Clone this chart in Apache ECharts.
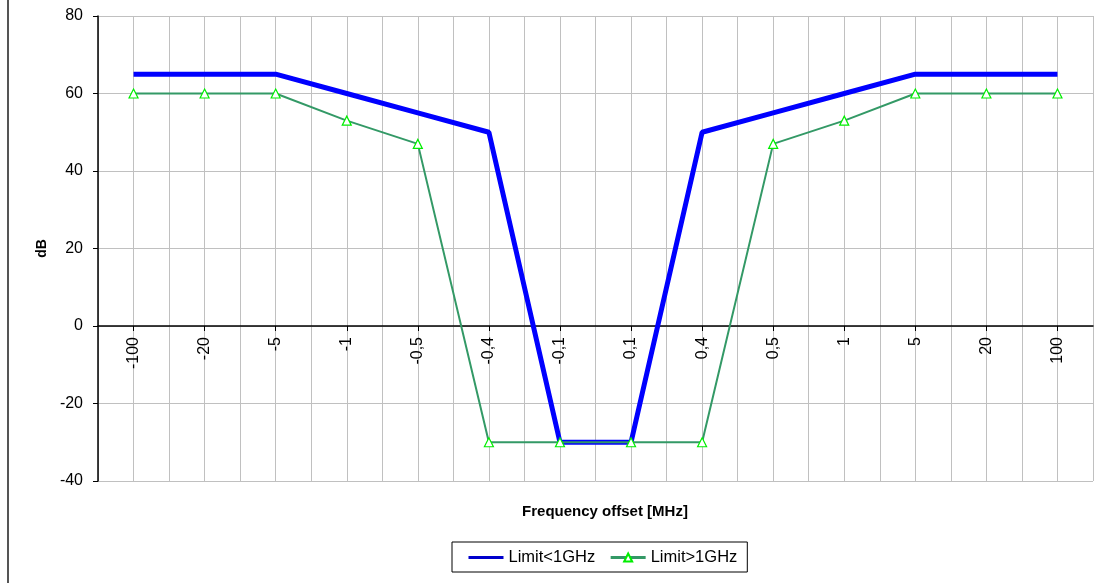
<!DOCTYPE html>
<html>
<head>
<meta charset="utf-8">
<script src="https://cdn.jsdelivr.net/npm/echarts@6/dist/echarts.min.js"></script>
<style>
  html, body { margin: 0; padding: 0; background: #fff; }
  #chart { width: 1105px; height: 583px; }
</style>
</head>
<body>
<div id="chart"></div>
<script>
const categories = ['-100', '-20', '-5', '-1', '-0,5', '-0,4', '-0,1', '0,1', '0,4', '0,5', '1', '5', '20', '100'];
const limitBelow1GHz = [65, 65, 65, 60, 55, 50, -30, -30, 50, 55, 60, 65, 65, 65];
const limitAbove1GHz = [60, 60, 60, 53, 47, -30, -30, -30, -30, 47, 53, 60, 60, 60];
const yTicks = { min: -40, max: 80, interval: 20 };

const FONT = 'Liberation Sans, Arial, sans-serif';
const GRID = { left: 98, right: 12, top: 16, bottom: 102 };
const plotHeight = 583 - GRID.top - GRID.bottom;
// distance of the zero line above the bottom of the plot area (axis placement)
const zeroOffset = plotHeight * (0 - yTicks.min) / (yTicks.max - yTicks.min);

const chart = echarts.init(document.getElementById('chart'), null, { renderer: 'canvas' });

chart.setOption({
  animation: false,
  backgroundColor: '#ffffff',
  textStyle: { fontFamily: FONT },
  title: {
    text: 'Frequency offset [MHz]',
    left: 600,
    top: 499,
    textAlign: 'center',
    textStyle: { fontFamily: FONT, fontSize: 15, fontWeight: 'bold', color: '#000' }
  },
  graphic: [{
    type: 'line',
    shape: { x1: 8, y1: 0, x2: 8, y2: 583 },
    style: { stroke: '#555', lineWidth: 2 }
  }],
  legend: {
    left: 452,
    top: 542,
    padding: [7, 10, 6, 15],
    itemWidth: 35,
    itemHeight: 10,
    itemGap: 14,
    borderColor: '#000',
    borderWidth: 1,
    textStyle: { fontFamily: FONT, fontSize: 16.5, color: '#000' },
    data: [
      { name: 'Limit<1GHz', lineStyle: { width: 3, color: '#0000cc' } },
      { name: 'Limit>1GHz', lineStyle: { width: 3 } }
    ]
  },
  grid: Object.assign({ containLabel: false }, GRID),
  xAxis: [{
    type: 'category',
    data: categories,
    boundaryGap: true,
    position: 'bottom',
    offset: -zeroOffset,
    axisLine: { onZero: false, lineStyle: { color: '#000', width: 1.5 } },
    axisTick: { show: true, alignWithLabel: true, length: 5, lineStyle: { color: '#000' } },
    axisLabel: { rotate: 90, margin: 11, fontFamily: FONT, fontSize: 16, color: '#000' },
    splitLine: { show: false }
  }, {
    type: 'value',
    min: 0,
    max: categories.length * 2,
    interval: 1,
    position: 'bottom',
    axisLine: { show: false },
    axisTick: { show: false },
    axisLabel: { show: false },
    splitLine: { show: true, lineStyle: { color: '#c0c0c0', width: 1 } }
  }],
  yAxis: {
    type: 'value',
    min: yTicks.min,
    max: yTicks.max,
    interval: yTicks.interval,
    name: 'dB',
    nameLocation: 'middle',
    nameGap: 49,
    nameRotate: 90,
    nameTextStyle: { fontFamily: FONT, fontSize: 14, fontWeight: 'bold', color: '#000' },
    axisLine: { show: true, lineStyle: { color: '#000', width: 1.5 } },
    axisTick: { show: true, length: 5, lineStyle: { color: '#000' } },
    axisLabel: { margin: 15, fontFamily: FONT, fontSize: 16, color: '#000' },
    splitLine: { show: true, lineStyle: { color: '#c0c0c0', width: 1 } }
  },
  series: [{
    name: 'Limit<1GHz',
    type: 'line',
    xAxisIndex: 0,
    data: limitBelow1GHz,
    symbol: 'line',
    showSymbol: false,
    lineStyle: { color: '#0000ff', width: 5 },
    itemStyle: { color: '#0000cc', borderColor: '#0000cc' },
    z: 3
  }, {
    name: 'Limit>1GHz',
    type: 'line',
    xAxisIndex: 0,
    data: limitAbove1GHz,
    symbol: 'triangle',
    symbolSize: 9,
    showAllSymbol: true,
    lineStyle: { color: '#339966', width: 2 },
    itemStyle: { color: '#ffffff', borderColor: '#00ee00', borderWidth: 1.2 },
    z: 4
  }]
});
</script>
</body>
</html>
